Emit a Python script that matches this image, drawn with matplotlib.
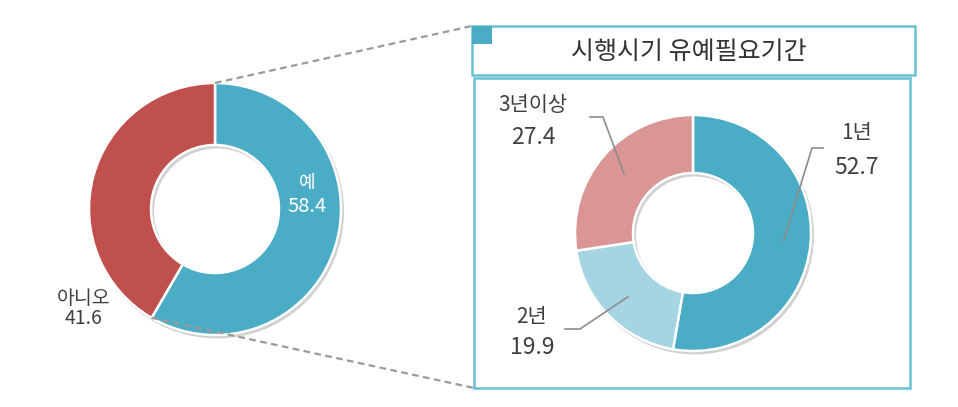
import matplotlib
matplotlib.use("Agg")
import matplotlib.pyplot as plt
from matplotlib.patches import Rectangle, Wedge
import numpy as np

plt.rcParams['font.family'] = ['Noto Sans CJK KR', 'DejaVu Sans']

# ---- data ----
left_labels = ['예', '아니오']
left_values = [58.4, 41.6]
right_title = '시행시기 유예필요기간'
right_labels = ['1년', '2년', '3년이상']
right_values = [52.7, 19.9, 27.4]

left_colors = ['#4BACC6', '#C0504D']
right_colors = ['#4BACC6', '#A5D5E2', '#DA9694']

W, H = 958, 407
fig = plt.figure(figsize=(W / 100, H / 100), dpi=100)
ax = fig.add_axes([0, 0, 1, 1])

def Y(y):
    return H - y

# geometry (pixels)
lc, lR, lw_ = (215, Y(209)), 126, 62
rc, rR, rw_ = (693, Y(233)), 118, 58

def shadow(c, R, w):
    ax.add_patch(Wedge((c[0] + 2, c[1] - 2.5), R + 1, 0, 360, width=w + 2,
                       facecolor='#000000', alpha=0.18, edgecolor='none', zorder=1))

shadow(lc, lR, lw_)
shadow(rc, rR, rw_)

wl, _ = ax.pie(left_values, colors=left_colors, startangle=90, counterclock=False,
               center=lc, radius=lR,
               wedgeprops=dict(width=lw_, edgecolor='white', linewidth=1.8))
wr, _ = ax.pie(right_values, colors=right_colors, startangle=90, counterclock=False,
               center=rc, radius=rR,
               wedgeprops=dict(width=rw_, edgecolor='white', linewidth=1.8))
for w in list(wl) + list(wr):
    w.set_zorder(2)

ax.set_xlim(0, W)
ax.set_ylim(0, H)
ax.set_aspect('equal')
ax.axis('off')

# ---- right panel boxes ----
box_col = '#6CC0D4'
title_box = Rectangle((472, Y(75)), 443, 49, facecolor='white', edgecolor=box_col, lw=1.8, zorder=3)
panel_box = Rectangle((474, Y(388)), 436, 310, facecolor='none', edgecolor=box_col, lw=1.8, zorder=3)
ax.add_patch(title_box)
ax.add_patch(panel_box)
ax.add_patch(Rectangle((472, Y(44)), 20, 18, facecolor='#4BACC6', edgecolor='none', zorder=4))
ax.text(689, Y(52), right_title, ha='center', va='center', fontsize=18, color='#333333', zorder=5)

# ---- dashed connector lines ----
top_pt = (lc[0], lc[1] + lR)
ang_b = np.deg2rad(90 - left_values[0] * 3.6)
bot_pt = (lc[0] + lR * np.cos(ang_b), lc[1] + lR * np.sin(ang_b))
ax.plot([top_pt[0], 472], [top_pt[1], Y(26)], ls=(0, (3, 2)), color='#9A9A9A', lw=1.6, zorder=2.5)
ax.plot([bot_pt[0], 474], [bot_pt[1], Y(388)], ls=(0, (3, 2)), color='#9A9A9A', lw=1.6, zorder=2.5)

# ---- left labels ----
ax.text(307, Y(183), left_labels[0], ha='center', va='center', fontsize=13, color='white', zorder=5)
ax.text(307, Y(207), f'{left_values[0]:.1f}', ha='center', va='center', fontsize=14.5, color='white', zorder=5)
ax.text(84, Y(299), left_labels[1], ha='center', va='center', fontsize=14, color='#404040', zorder=5)
ax.text(84, Y(318), f'{left_values[1]:.1f}', ha='center', va='center', fontsize=14, color='#404040', zorder=5)

# ---- right labels with leader lines ----
# layout per category: (label x, label y, value y, elbow x, elbow y, tail x)
layout = {
    '1년': (857, 133, 167, 812, 148, 823),
    '2년': (532, 317, 348, 580, 329, 565),
    '3년이상': (533, 105, 137, 603, 117, 590),
}
cum = 0
for lab, val in zip(right_labels, right_values):
    mid = np.deg2rad(90 - (cum + val / 2) * 3.6)
    cum += val
    sx = rc[0] + 0.77 * rR * np.cos(mid)
    sy = rc[1] + 0.77 * rR * np.sin(mid)
    lx, ly, vy, ex, ey, tx = layout[lab]
    ax.plot([sx, ex, tx], [sy, Y(ey), Y(ey)], color='#8C8C8C', lw=1.2, zorder=4)
    ax.text(lx, Y(ly), lab, ha='center', va='center', fontsize=15, color='#404040', zorder=5)
    ax.text(lx, Y(vy), f'{val:.1f}', ha='center', va='center', fontsize=16.5, color='#404040', zorder=5)

fig.savefig('out.png', dpi=100, facecolor='white')
